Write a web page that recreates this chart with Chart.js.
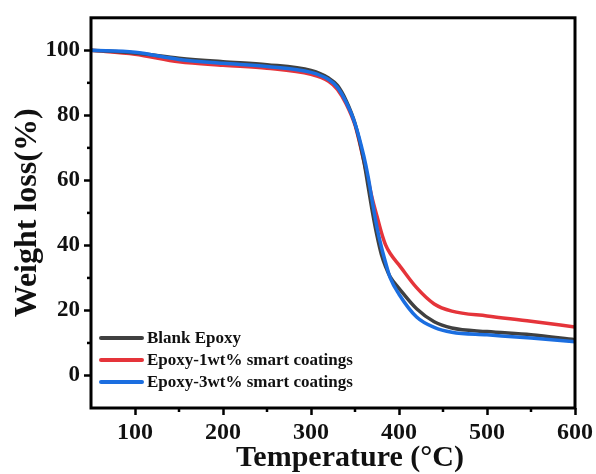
<!DOCTYPE html>
<html>
<head>
<meta charset="utf-8">
<script src="https://cdn.jsdelivr.net/npm/chart.js@4/dist/chart.umd.min.js"></script>
<style>
  body { margin: 0; background: #fff; }
</style>
</head>
<body>
<canvas id="tga" width="596" height="474"></canvas>
<script>
// temperature (°C) and weight (%)
var temperature = [50, 100, 150, 200, 250, 300, 320, 330, 340, 350, 360, 365, 370, 375, 380, 385, 390, 400, 420, 440, 460, 500, 550, 600];
var blankEpoxy  = [100, 99.2, 97.6, 96.5, 95.6, 93.8, 91.5, 89.2, 84.5, 77.5, 66, 58, 50, 43, 37.2, 33.3, 30.3, 26.8, 20.5, 16.5, 14.6, 13.5, 12.5, 11.0];
var epoxy1wt    = [100, 98.8, 96.5, 95.4, 94.5, 92.6, 90.5, 88, 83.5, 77, 66, 60, 54, 49, 44, 40, 37.5, 34, 27, 22, 19.8, 18.3, 16.7, 14.9];
var epoxy3wt    = [100, 99.4, 97.2, 96, 95, 93.2, 91, 88.6, 84, 77.5, 67.5, 61, 53, 45.5, 39.5, 34.5, 30, 25, 18, 14.8, 13.3, 12.5, 11.5, 10.4];
var xTicks = [100, 200, 300, 400, 500, 600];
var xMinor = [150, 250, 350, 450, 550];
var yTicks = [0, 20, 40, 60, 80, 100];
var yMinor = [10, 30, 50, 70, 90];

var serif = "'Liberation Serif', 'Times New Roman', serif";

function punkte(werte) {
    return temperature.map(function (t, i) { return { x: t, y: werte[i] }; });
}

// frame, minor ticks, x title and legend inside the plot
var rahmen = {
    id: 'rahmen',
    afterDraw: function (chart) {
        var c = chart.ctx, a = chart.chartArea;
        var xs = chart.scales.x, ys = chart.scales.y;
        c.save();
        c.strokeStyle = '#000';
        c.lineWidth = 2.5;
        xMinor.forEach(function (v) {
            var px = xs.getPixelForValue(v);
            c.beginPath(); c.moveTo(px, a.bottom); c.lineTo(px, a.bottom + 4); c.stroke();
        });
        yMinor.forEach(function (v) {
            var py = ys.getPixelForValue(v);
            c.beginPath(); c.moveTo(a.left, py); c.lineTo(a.left - 4, py); c.stroke();
        });
        c.lineWidth = 3;
        c.strokeRect(a.left, a.top, a.right - a.left, a.bottom - a.top);

        // x axis title, sits a bit right of centre in the original
        c.fillStyle = '#111';
        c.font = 'bold 30px ' + serif;
        c.textAlign = 'center';
        c.textBaseline = 'middle';
        c.fillText('Temperature (°C)', (a.left + a.right) / 2 + 17, 458);

        // legend
        c.textAlign = 'left';
        c.font = 'bold 17px ' + serif;
        chart.data.datasets.forEach(function (ds, i) {
            var y = a.bottom - 70 + i * 22;
            c.strokeStyle = ds.borderColor;
            c.lineWidth = 4;
            c.lineCap = 'round';
            c.beginPath(); c.moveTo(a.left + 10, y); c.lineTo(a.left + 51, y); c.stroke();
            c.fillText(ds.label, a.left + 56, y + 1);
        });
        c.restore();
    }
};

var ctx = document.getElementById('tga').getContext('2d');
var myChart = new Chart(ctx, {
    type: 'line',
    data: {
        datasets: [{
            label: 'Blank Epoxy',
            data: punkte(blankEpoxy),
            borderColor: '#404040',
            order: 1
        }, {
            label: 'Epoxy-1wt% smart coatings',
            data: punkte(epoxy1wt),
            borderColor: '#e5343a',
            order: 2
        }, {
            label: 'Epoxy-3wt% smart coatings',
            data: punkte(epoxy3wt),
            borderColor: '#1b6ee0',
            order: 0
        }]
    },
    options: {
        responsive: false,
        animation: false,
        layout: { padding: { top: 15, right: 19, left: 0, bottom: 0 } },
        elements: {
            line: { borderWidth: 3.5, cubicInterpolationMode: 'monotone', fill: false },
            point: { radius: 0 }
        },
        plugins: {
            legend: { display: false },
            tooltip: { enabled: false }
        },
        scales: {
            x: {
                type: 'linear',
                min: 50,
                max: 600,
                afterFit: function (s) { s.height = 66; },
                afterBuildTicks: function (s) { s.ticks = xTicks.map(function (v) { return { value: v }; }); },
                border: { display: false },
                grid: { drawOnChartArea: false, tickLength: 7, tickWidth: 2.5, tickColor: '#000' },
                ticks: { color: '#111', padding: 3, font: { family: serif, size: 24, weight: 'bold' } }
            },
            y: {
                min: -10,
                max: 110,
                afterFit: function (s) { s.width = 91; },
                afterBuildTicks: function (s) { s.ticks = yTicks.map(function (v) { return { value: v }; }); },
                border: { display: false },
                grid: { drawOnChartArea: false, tickLength: 7, tickWidth: 2.5, tickColor: '#000' },
                ticks: { color: '#111', padding: 4, font: { family: serif, size: 23, weight: 'bold' } },
                title: {
                    display: true,
                    text: 'Weight loss(%)',
                    color: '#111',
                    padding: { top: 12, bottom: 0 },
                    font: { family: serif, size: 32, weight: 'bold', lineHeight: 1 }
                }
            }
        }
    },
    plugins: [rahmen]
});
</script>
</body>
</html>
